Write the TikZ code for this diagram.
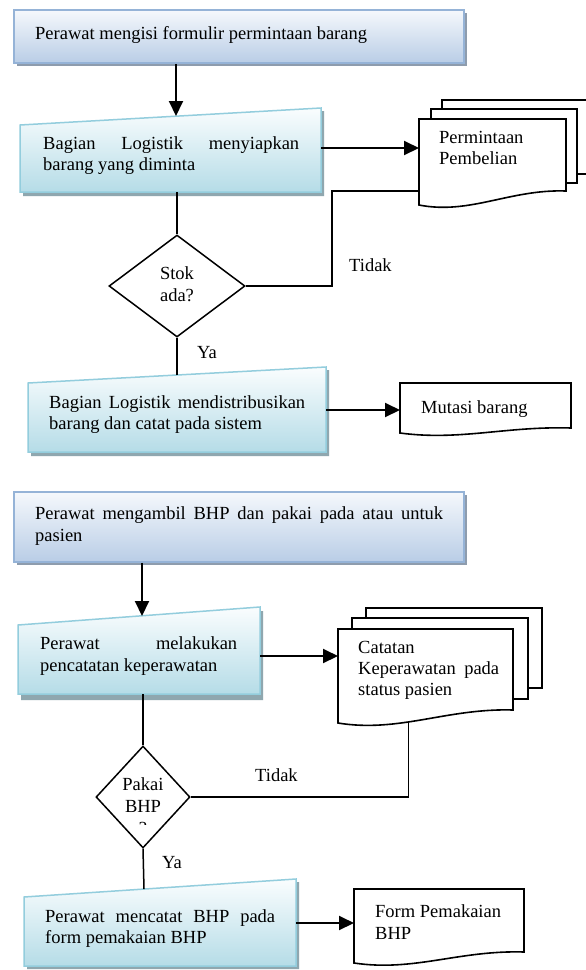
\documentclass[tikz,border=0pt]{standalone}
\usepackage{fontspec}
\setmainfont{Liberation Serif}
\usetikzlibrary{arrows.meta,shapes.geometric,shadows}
\definecolor{bluetop}{HTML}{F5F8FC}
\definecolor{bluebot}{HTML}{B9CDE6}
\definecolor{blueedge}{HTML}{95B3D7}
\definecolor{shadowb}{HTML}{8E9CAD}
\definecolor{cyantop}{HTML}{FAFDFE}
\definecolor{cyanbot}{HTML}{B5DCE7}
\definecolor{cyanedge}{HTML}{93CDDD}
\definecolor{shadowc}{HTML}{8FA7AF}
\begin{document}
\begin{tikzpicture}[x=1pt,y=-1pt,
  txt/.style={font=\fontsize{18.5}{21}\selectfont, inner sep=0pt, anchor=base west},
  ctxt/.style={font=\fontsize{18.5}{21}\selectfont, inner sep=0pt, anchor=base},
  arr/.style={line width=2pt, -{Triangle[length=15pt,width=14pt]}},
  ln/.style={line width=1.5pt},
  doc/.style={line width=1.6pt, fill=white, line join=miter},
  bluebox/.style={rectangle, draw=blueedge, line width=1.5pt, top color=bluetop, bottom color=bluebot,
    drop shadow={shadow xshift=3pt, shadow yshift=-3pt, fill=shadowb, opacity=1}, inner sep=0pt},
  cyanbox/.style={draw=cyanedge, line width=1.5pt, top color=cyantop, bottom color=cyanbot},
  cyanshadow/.style={fill=shadowc},
  decision/.style={diamond, draw, line width=1.5pt, aspect=1, inner sep=0pt, fill=white}
]
\useasboundingbox[fill=white] (0,0) rectangle (586,970);

% ---------- Part 1 ----------
\node[bluebox, minimum width=450pt, minimum height=53pt] (b1) at (239,36.5) {};
\node[txt] (t1) at (35,39) {Perawat mengisi formulir permintaan barang};

\fill[cyanshadow] (23,128) -- (324,111) -- (324,196) -- (23,196) -- cycle;
\shade[cyanbox] (20,125) -- (321,108) -- (321,192) -- (20,192) -- cycle;
\coordinate (b2in) at (176,116);
\coordinate (b2out) at (321,148);
\coordinate (b2bot) at (177,192);
\node[txt] (t2a) at (43,149) {\hbox to 256pt{Bagian\hfill Logistik\hfill menyiapkan}};
\node[txt] (t2b) at (43,170) {barang yang diminta};

% document stack: Permintaan Pembelian
\draw[doc] (442,109) -- (442,100) -- (590,100) -- (590,174) -- (577,174);
\draw[doc] (431,119) -- (431,109) -- (577,109) -- (577,183) -- (566,183);
\draw[doc] (419,205) -- (419,119) -- (566,119) -- (566,191)
  .. controls (510,189) and (470,215) .. (419,205) -- cycle;
\coordinate (p1in) at (419,148);
\coordinate (p1side) at (419,191);
\node[txt] (t3a) at (439,143) {Permintaan};
\node[txt] (t3b) at (439,164) {Pembelian};

\node[decision, minimum width=136pt, minimum height=102pt] (d1) at (177,286) {};
\node[ctxt] (d1a) at (177,279) {Stok};
\node[ctxt] (d1b) at (177,301) {ada?};

\fill[cyanshadow] (31,386) -- (329,370) -- (329,456) -- (31,456) -- cycle;
\shade[cyanbox] (28,383) -- (326,367) -- (326,452) -- (28,452) -- cycle;
\coordinate (b3in) at (177,375);
\coordinate (b3out) at (326,410);
\node[txt] (t4a) at (49,408) {\hbox to 256pt{Bagian\hfill Logistik\hfill mendistribusikan}};
\node[txt] (t4b) at (49,429) {barang dan catat pada sistem};

\draw[doc] (400,433) -- (400,383) -- (571,383) -- (571,428)
  .. controls (506,426) and (460,441) .. (400,433) -- cycle;
\coordinate (m1in) at (400,410);
\node[txt] (t5) at (421,413) {Mutasi barang};

\draw[arr] (b1.south -| b2in) -- (b2in);
\draw[arr] (b2out) -- (p1in);
\draw[ln] (b2bot) -- (d1.north);
\draw[ln] (d1.east) -| (332,191) -- (p1side);
\draw[ln] (d1.south) -- (b3in);
\draw[arr] (b3out) -- (m1in);
\node[txt] (l1) at (349,271) {Tidak};
\node[txt] (l2) at (197,358) {Ya};

% ---------- Part 2 ----------
\node[bluebox, minimum width=450pt, minimum height=70pt] (b4) at (239,527) {};
\node[txt] (t6a) at (35,519) {\hbox to 408pt{Perawat\hfill mengambil\hfill BHP\hfill dan\hfill pakai\hfill pada\hfill atau\hfill untuk}};
\node[txt] (t6b) at (35,541) {pasien};

\fill[cyanshadow] (21,629) -- (263,611) -- (263,700) -- (21,700) -- cycle;
\shade[cyanbox] (18,625) -- (260,607) -- (260,694) -- (18,694) -- cycle;
\coordinate (b5in) at (142,616);
\coordinate (b5out) at (260,656);
\coordinate (b5bot) at (143,694);
\node[txt] (t7a) at (40,649) {\hbox to 197pt{Perawat\hfill melakukan}};
\node[txt] (t7b) at (40,671) {pencatatan keperawatan};

% document stack: Catatan
\draw[doc] (366,618) -- (366,608) -- (542,608) -- (542,688) -- (528,688);
\draw[doc] (352,629) -- (352,618) -- (528,618) -- (528,699) -- (513,699);
\draw[doc] (338,723) -- (338,629) -- (513,629) -- (513,710)
  .. controls (447,708) and (399,733) .. coordinate[pos=0.59] (cwave) (338,723) -- cycle;
\coordinate (c1in) at (338,656);
\node[txt] (t8a) at (358,653) {Catatan};
\node[txt] (t8b) at (358,674) {\hbox to 141pt{Keperawatan\hfill pada}};
\node[txt] (t8c) at (358,695) {status pasien};

\node[decision, minimum width=94pt, minimum height=102pt] (d2) at (143,797) {};
\node[ctxt] (d2a) at (143,790) {Pakai};
\node[ctxt] (d2b) at (143,812) {BHP};
\begin{scope}
  \clip (96,746) rectangle (190,824);
  \node[ctxt] (d2c) at (143,834) {?};
\end{scope}

\fill[cyanshadow] (27,900) -- (299,882) -- (299,969) -- (27,969) -- cycle;
\shade[cyanbox] (24,897) -- (296,879) -- (296,966) -- (24,966) -- cycle;
\coordinate (b6in) at (144,889);
\coordinate (b6out) at (296,923);
\node[txt] (t9a) at (45,922) {\hbox to 230pt{Perawat\hfill mencatat\hfill BHP\hfill pada}};
\node[txt] (t9b) at (45,943) {form pemakaian BHP};

\draw[doc] (354,963) -- (354,889) -- (524,889) -- (524,952)
  .. controls (459,950) and (414,972) .. (354,963) -- cycle;
\coordinate (f1in) at (354,923);
\node[txt] (t10a) at (375,917) {Form Pemakaian};
\node[txt] (t10b) at (375,939) {BHP};

\draw[arr] (b4.south -| b5in) -- (b5in);
\draw[arr] (b5out) -- (c1in);
\draw[ln] (b5bot) -- (d2.north);
\draw[ln] (d2.east) -| (cwave);
\draw[ln] (d2.south) -- (b6in);
\draw[arr] (b6out) -- (f1in);
\node[txt] (l3) at (255,781) {Tidak};
\node[txt] (l4) at (162,868) {Ya};
\end{tikzpicture}
\end{document}
